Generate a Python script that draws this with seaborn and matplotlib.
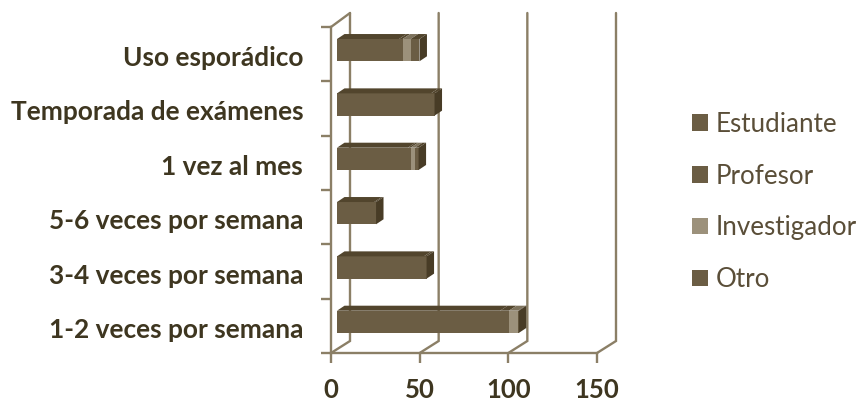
import numpy as np
import pandas as pd
import matplotlib
matplotlib.use('Agg')
import matplotlib.pyplot as plt
import seaborn as sns
from matplotlib.patches import Patch, Polygon
from matplotlib.transforms import Affine2D, IdentityTransform

# valores
categorias = ['Uso esporádico', 'Temporada de exámenes', '1 vez al mes',
              '5-6 veces por semana', '3-4 veces por semana', '1-2 veces por semana']
estudiante = [35, 53, 40, 21, 49, 92]
profesor = [2, 2, 1.5, 1, 1.5, 5]
investigador = [4.5, 0, 2.5, 0, 0, 5]
otro = [5, 0, 2, 0, 0, 0.5]
series = ['Estudiante', 'Profesor', 'Investigador', 'Otro']
ticks_x = [0, 50, 100, 150]

color_cara = '#6b5d44'
color_inv = '#9c917b'
color_sup = '#52452d'
color_lat = '#483c26'
color_eje = '#8b7f66'
color_txt = '#3e3620'
colores = [color_cara, color_cara, color_inv, color_cara]

sns.set_style('white')
plt.rcParams['font.family'] = ['Lato', 'DejaVu Sans']

fig = plt.figure(figsize=(8.59, 4.01), dpi=100)
ax = fig.add_axes([331 / 859, (401 - 353) / 401, 266 / 859, 326 / 401])

df = pd.DataFrame({'Uso': categorias, 'Estudiante': estudiante, 'Profesor': profesor,
                   'Investigador': investigador, 'Otro': otro})
acum = df[series].cumsum(axis=1)
acum['Uso'] = df['Uso']

# de mayor a menor para que se vea apilado
ancho = 0.41
desp = Affine2D().translate(6, 4)
for s, c in reversed(list(zip(series, colores))):
    sns.barplot(data=acum, y='Uso', x=s, order=categorias, color=c, width=ancho,
                saturation=1, ax=ax, zorder=3)

ax.set_xlim(0, 150)
ax.set_ylim(5.5, -0.5)
for p in ax.patches:
    p.set_transform(ax.transData + desp)
    p.set_clip_on(False)
    p.set_linewidth(0)

fig.canvas.draw()


def px(x, y):
    return ax.transData.transform((x, y)) + np.array([6, 4])


# efecto 3D: caras superior y lateral
prof = np.array([7.5, 5])
for i in range(len(categorias)):
    total = acum.loc[i, 'Otro']
    y_sup = i - ancho / 2
    y_inf = i + ancho / 2
    ini = 0
    for s, c in zip(series, colores):
        fin = acum.loc[i, s]
        if fin > ini:
            sup = color_sup if c == color_cara else '#7d725c'
            a, b = px(ini, y_sup), px(fin, y_sup)
            ax.add_patch(Polygon([a, b, b + prof, a + prof], transform=IdentityTransform(),
                                 fc=sup, lw=0, zorder=3, clip_on=False))
        ini = fin
    a, b = px(total, y_sup), px(total, y_inf)
    ax.add_patch(Polygon([a, b, b + prof, a + prof], transform=IdentityTransform(),
                         fc=color_lat, lw=0, zorder=3, clip_on=False))

# paredes del fondo
fondo = np.array([19, 12])
for v in ticks_x:
    a = ax.transData.transform((v, 5.5))
    b = a + fondo
    c = ax.transData.transform((v, -0.5)) + np.array([19, 14])
    ax.plot([a[0], b[0], c[0]], [a[1], b[1], c[1]], transform=IdentityTransform(),
            color=color_eje, lw=1.7, zorder=1, clip_on=False, solid_joinstyle='miter')
a = ax.transData.transform((0, -0.5))
ax.plot([a[0], a[0] + 19], [a[1], a[1] + 14], transform=IdentityTransform(),
        color=color_eje, lw=1.7, zorder=1, clip_on=False)

# ejes
sns.despine(ax=ax, top=True, right=True)
for lado in ['left', 'bottom']:
    ax.spines[lado].set_color(color_eje)
    ax.spines[lado].set_linewidth(1.7)
ax.set_xlabel('')
ax.set_ylabel('')
ax.set_xticks(ticks_x)
ax.set_yticks(np.arange(-0.5, 6, 1), minor=True)
ax.set_yticks(range(len(categorias)), categorias)
ax.tick_params(axis='x', length=7, width=1.7, color=color_eje, labelsize=18.5, pad=11,
               labelcolor=color_txt, bottom=True)
ax.tick_params(axis='y', which='major', length=0, pad=20, labelsize=18.9, labelcolor=color_txt)
ax.tick_params(axis='y', which='minor', length=7, width=1.7, color=color_eje, left=True)
for t in ax.get_xticklabels() + ax.get_yticklabels():
    t.set_fontweight('bold')
for t in ax.get_yticklabels():
    t.set_transform(t.get_transform() + Affine2D().translate(0, -2))

# leyenda
handles = [Patch(fc=c, lw=0, label=s) for s, c in zip(series, colores)]
fig.legend(handles=handles, loc='center left', bbox_to_anchor=(692 / 859, 1 - 202 / 401),
           frameon=False, fontsize=18.7, labelcolor='#5a4e38', handlelength=0.6, handleheight=0.6,
           handletextpad=0.3, labelspacing=1.03, borderpad=0, borderaxespad=0)

fig.savefig('out.png', dpi=100)
